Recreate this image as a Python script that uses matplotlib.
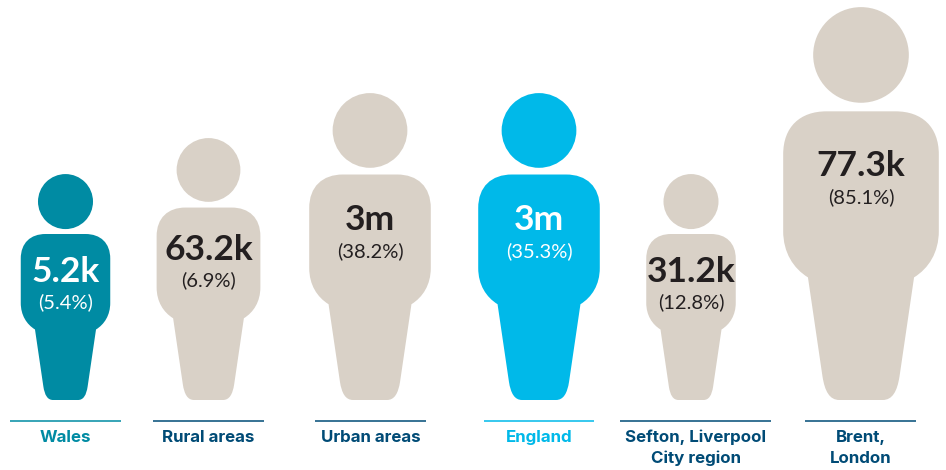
#!/usr/bin/env python3
import matplotlib
matplotlib.use("Agg")
import matplotlib.pyplot as plt
from matplotlib.patches import Circle, PathPatch
from matplotlib.path import Path

labels = ["Wales", "Rural areas", "Urban areas", "England", "Sefton, Liverpool\nCity region", "Brent,\nLondon"]
counts = ["5.2k", "63.2k", "3m", "3m", "31.2k", "77.3k"]
shares = ["(5.4%)", "(6.9%)", "(38.2%)", "(35.3%)", "(12.8%)", "(85.1%)"]
icon_heights = [226, 262, 307, 307, 226, 393]
centres = [65.5, 208.5, 370, 539, 691, 861]
rule_starts = [10, 153, 315, 484, 620, 805]
rule_ends = [121, 264, 426, 594, 771, 916]
count_y = [272, 250, 220, 220, 272, 166]
share_y = [302, 280, 251, 251, 302, 197]

TEAL = "#008ba3"
BEIGE = "#d9d1c7"
CYAN = "#00b9e9"
NAVY = "#004b76"
DARK = "#231f20"
BASE = 400
FONT = ["Lato", "DejaVu Sans"]
LABEL_FONT = ["Inter", "DejaVu Sans"]

fill_cols = [TEAL, BEIGE, BEIGE, CYAN, BEIGE, BEIGE]
text_cols = ["white", DARK, DARK, "white", DARK, DARK]
label_cols = [TEAL, NAVY, NAVY, CYAN, NAVY, NAVY]


def body_path(cx, h):
    # half outline in units of icon height, mirrored for the other side
    half = [
        (Path.MOVETO, 0, 0.7345),
        (Path.LINETO, 0.088, 0.7345),
        (Path.CURVE4, 0.155, 0.7345),
        (Path.CURVE4, 0.198, 0.695),
        (Path.CURVE4, 0.198, 0.625),
        (Path.LINETO, 0.198, 0.43),
        (Path.CURVE4, 0.198, 0.375),
        (Path.CURVE4, 0.172, 0.335),
        (Path.CURVE4, 0.135, 0.312),
        (Path.LINETO, 0.098, 0.06),
        (Path.CURVE4, 0.092, 0.022),
        (Path.CURVE4, 0.08, 0),
        (Path.CURVE4, 0.055, 0),
        (Path.LINETO, 0, 0),
    ]
    codes = [c for c, _, _ in half]
    pts = [(u, v) for _, u, v in half]
    # walk back up the left side; bezier segments keep their order when reversed
    back = list(reversed(half))
    for i in range(1, len(back)):
        codes.append(back[i - 1][0] if back[i - 1][0] != Path.MOVETO else Path.LINETO)
        pts.append((-back[i][1], back[i][2]))
    verts = [(cx + u * h, BASE - v * h) for u, v in pts]
    return Path(verts, codes)


fig = plt.figure(figsize=(9.46, 4.70), dpi=100)
ax = fig.add_axes([0, 0, 1, 1])
ax.set_xlim(0, 946)
ax.set_ylim(470, 0)
ax.axis("off")

for i, lab in enumerate(labels):
    cx, h = centres[i], icon_heights[i]
    ax.add_patch(PathPatch(body_path(cx, h), facecolor=fill_cols[i], edgecolor="none"))
    ax.add_patch(Circle((cx, BASE - 0.878 * h), 0.1217 * h, facecolor=fill_cols[i], edgecolor="none"))
    ax.text(cx, count_y[i], counts[i], ha="center", va="center", fontsize=25.5,
            fontweight="bold", color=text_cols[i], family=FONT)
    ax.text(cx, share_y[i], shares[i], ha="center", va="center", fontsize=14.5,
            fontweight="normal", color=text_cols[i], family=FONT)
    ax.plot([rule_starts[i], rule_ends[i]], [420.5, 420.5], color=label_cols[i], lw=1.1, solid_capstyle="butt")
    for j, part in enumerate(lab.split("\n")):
        ax.text((rule_starts[i] + rule_ends[i]) / 2, 437.5 + j * 21, part, ha="center", va="center",
                fontsize=12.2, fontweight="bold", color=label_cols[i], family=LABEL_FONT)

fig.savefig("out.png", dpi=100)
